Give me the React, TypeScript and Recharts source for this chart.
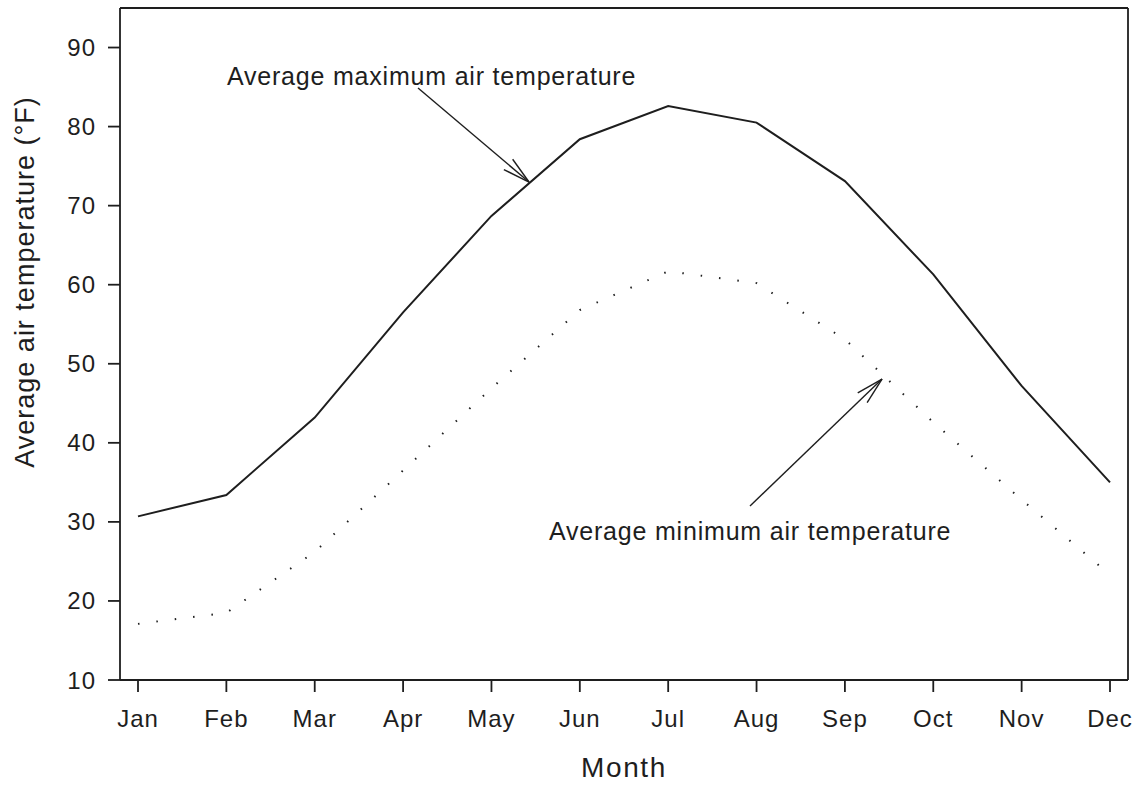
import React from 'react';
import { LineChart, Line, XAxis, YAxis, ReferenceLine, ReferenceDot, Label } from 'recharts';

const months = ['Jan', 'Feb', 'Mar', 'Apr', 'May', 'Jun', 'Jul', 'Aug', 'Sep', 'Oct', 'Nov', 'Dec'];
const maxTemps = [30.7, 33.4, 43.2, 56.5, 68.7, 78.4, 82.6, 80.5, 73.1, 61.3, 47.2, 35.0];
const minTemps = [17.1, 18.5, 26.2, 36.5, 46.9, 56.8, 61.7, 60.2, 53.1, 42.6, 32.8, 23.3];
const yTicks = [10, 20, 30, 40, 50, 60, 70, 80, 90];
const monthIndex = months.map((_, i) => i);

// annotation arrows in data coordinates: [tail, tip]
const maxArrow = [{ x: 3.169, y: 84.88 }, { x: 4.425, y: 72.99 }];
const minArrow = [{ x: 6.926, y: 32.01 }, { x: 8.42, y: 48.07 }];
const maxLabel = { x: 1.007, y: 85.26, text: 'Average maximum air temperature' };
const minLabel = { x: 4.651, y: 27.71, text: 'Average minimum air temperature' };

const data = months.map((m, i) => ({ idx: i, max: maxTemps[i], min: minTemps[i] }));

const INK = '#1e1e1e';
const FONT = '"Liberation Sans", Arial, Helvetica, sans-serif';

const Arrow = (props: any) => {
  const { x1, y1, x2, y2 } = props;
  const ang = Math.atan2(y2 - y1, x2 - x1) + Math.PI;
  const len = 28;
  const spread = (14 * Math.PI) / 180;
  const hx1 = x2 + len * Math.cos(ang + spread);
  const hy1 = y2 + len * Math.sin(ang + spread);
  const hx2 = x2 + len * Math.cos(ang - spread);
  const hy2 = y2 + len * Math.sin(ang - spread);
  return (
    <g stroke={INK} strokeWidth={1.4} fill="none">
      <line x1={x1} y1={y1} x2={x2} y2={y2} />
      <line x1={x2} y1={y2} x2={hx1} y2={hy1} />
      <line x1={x2} y1={y2} x2={hx2} y2={hy2} />
    </g>
  );
};

// frame along the top and right edges of the plot area
const FrameLine = (props: any) => {
  const { x1, y1, x2, y2 } = props;
  return <line x1={x1} y1={y1} x2={x2} y2={y2} stroke={INK} strokeWidth={1.8} />;
};

const makeText = (text: string) => (props: any) => {
  const vb = props.viewBox || {};
  const x = vb.cx !== undefined ? vb.cx : vb.x + (vb.width || 0) / 2;
  const y = vb.cy !== undefined ? vb.cy : vb.y + (vb.height || 0) / 2;
  return (
    <text x={x} y={y} fill={INK} fontFamily={FONT} fontSize={25} letterSpacing={0.8} textAnchor="start">
      {text}
    </text>
  );
};

const YLabel = (props: any) => {
  const vb = props.viewBox || { x: 10, y: 8, width: 110, height: 672 };
  const cx = vb.x + 15;
  const cy = vb.y + vb.height / 2 - 62;
  return (
    <text
      x={cx}
      y={cy}
      transform={`rotate(-90, ${cx}, ${cy})`}
      textAnchor="middle"
      dominantBaseline="central"
      fill={INK}
      fontFamily={FONT}
      fontSize={27}
      letterSpacing={1}
    >
      Average air temperature (°F)
    </text>
  );
};

const tickStyle = { fill: INK, fontFamily: FONT, fontSize: 24, letterSpacing: 1 };

export default function App() {
  return (
    <div style={{ position: 'absolute', left: 0, top: 0, background: '#fff' }}>
      <LineChart width={1142} height={785} data={data} margin={{ top: 8, right: 14, bottom: 0, left: 10 }}>
        <XAxis
          dataKey="idx"
          type="number"
          domain={[0, 11]}
          ticks={monthIndex}
          padding={{ left: 18, right: 18 }}
          tickFormatter={(v: number) => months[v]}
          height={105}
          tickSize={12}
          tickMargin={18}
          tick={tickStyle}
          stroke={INK}
          strokeWidth={1.8}
          interval={0}
        >
          <Label
            value="Month"
            position="insideBottom"
            offset={8}
            style={{ fill: INK, fontFamily: FONT, fontSize: 28, letterSpacing: 1.6 }}
          />
        </XAxis>
        <YAxis
          type="number"
          domain={[10, 95]}
          ticks={yTicks}
          width={110}
          tickSize={12}
          tickMargin={12}
          tick={tickStyle}
          stroke={INK}
          strokeWidth={1.8}
          allowDataOverflow
          label={<YLabel />}
        />
        <Line
          type="linear"
          dataKey="max"
          stroke={INK}
          strokeWidth={2}
          dot={false}
          activeDot={false}
          isAnimationActive={false}
        />
        <Line
          type="linear"
          dataKey="min"
          stroke={INK}
          strokeWidth={2}
          strokeDasharray="1.5 17"
          dot={false}
          activeDot={false}
          isAnimationActive={false}
        />
        <ReferenceLine y={95} shape={FrameLine} ifOverflow="visible" />
        <ReferenceLine
          segment={[{ x: 11, y: 10 }, { x: 11, y: 95 }]}
          shape={(p: any) => {
            const xr = p.x1 + 18;
            return <line x1={xr} y1={p.y1} x2={xr} y2={p.y2} stroke={INK} strokeWidth={1.8} />;
          }}
          ifOverflow="visible"
        />
        <ReferenceLine segment={maxArrow} shape={Arrow} ifOverflow="visible" />
        <ReferenceLine segment={minArrow} shape={Arrow} ifOverflow="visible" />
        <ReferenceDot
          x={maxLabel.x}
          y={maxLabel.y}
          r={0}
          fill="none"
          stroke="none"
          ifOverflow="visible"
          label={{ content: makeText(maxLabel.text) } as any}
        />
        <ReferenceDot
          x={minLabel.x}
          y={minLabel.y}
          r={0}
          fill="none"
          stroke="none"
          ifOverflow="visible"
          label={{ content: makeText(minLabel.text) } as any}
        />
      </LineChart>
    </div>
  );
}
